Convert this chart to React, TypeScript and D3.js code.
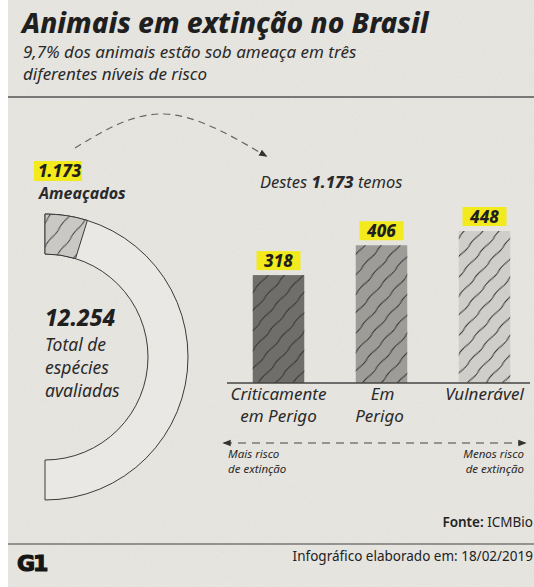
import React from 'react';
import * as d3 from 'd3';

const totalEspecies = 12254;
const ameacados = 1173;
const categorias = ['Criticamente em Perigo', 'Em Perigo', 'Vulnerável'];
const rotulos = [['Criticamente', 'em Perigo'], ['Em', 'Perigo'], ['Vulnerável']];
const especies = [318, 406, 448];
const coresBarras = ['#6f6e6b', '#9d9c98', '#cfcecb'];

const W = 534;
const H = 587;
const fmt = (n: number) => n.toLocaleString('pt-BR');

const sans = "'Noto Sans', 'Open Sans', sans-serif";

export default function App() {
  // barras
  const baseY = 383;
  const x = d3.scaleBand<string>().domain(categorias).range([227, 536]).paddingInner(0.5).paddingOuter(0.25);
  const y = d3.scaleLinear().domain([0, 448]).range([baseY, baseY - 152]);

  // semicírculo
  const cx = 45;
  const cy = 357;
  const arc = d3.arc<{ s: number; e: number }>()
    .innerRadius(103)
    .outerRadius(143)
    .startAngle((d) => d.s)
    .endAngle((d) => d.e);
  const angulo = d3.scaleLinear().domain([0, totalEspecies]).range([0, Math.PI]);

  const curva = d3.line().curve(d3.curveNatural)([
    [75, 148],
    [165, 114],
    [266, 156],
  ]);

  return (
    <svg width={W} height={H} style={{ position: 'absolute', left: 0, top: 0 }}>
      <defs>
        <filter id="papel" x="0" y="0" width="100%" height="100%">
          <feTurbulence type="fractalNoise" baseFrequency="0.9" numOctaves="3" seed="4" />
          <feColorMatrix type="matrix" values="0 0 0 0 0.5  0 0 0 0 0.5  0 0 0 0 0.5  0 0 0 0.9 -0.35" />
        </filter>
        <pattern id="hachura" width="13" height="22" patternUnits="userSpaceOnUse" patternTransform="rotate(42)">
          <path d="M6,0 C8,6 4,14 6,22" fill="none" stroke="#333" strokeWidth="1" />
        </pattern>
        <pattern id="hachuraArco" width="15" height="22" patternUnits="userSpaceOnUse" patternTransform="rotate(38)">
          <path d="M7,0 C9,6 5,14 7,22" fill="none" stroke="#444" strokeWidth="1" />
        </pattern>
        <marker id="seta" viewBox="0 0 10 10" refX="8" refY="5" markerWidth="7" markerHeight="7" orient="auto-start-reverse">
          <path d="M0,1 L10,5 L0,9 z" fill="#333" />
        </marker>
      </defs>

      <rect x={0} y={0} width={W} height={H} fill="#fff" />
      <rect x={8} y={0} width={W - 8} height={H} fill="#e7e5e0" />
      <rect x={8} y={0} width={W - 8} height={H} filter="url(#papel)" opacity={0.25} />

      {/* título */}
      <text x={22} y={33} fontFamily={sans} fontStyle="italic" fontWeight={800} fontSize={28} fill="#1f1f1f">
        Animais em extinção no Brasil
      </text>
      <text fontFamily={sans} fontStyle="italic" fontSize={17} fill="#2a2a2a">
        <tspan x={23} y={58}>9,7% dos animais estão sob ameaça em três</tspan>
        <tspan x={23} y={80}>diferentes níveis de risco</tspan>
      </text>
      <line x1={8} x2={W} y1={97} y2={97} stroke="#555" strokeWidth={1.5} />

      {/* semicírculo do total */}
      <g transform={`translate(${cx},${cy})`}>
        <path d={arc({ s: 0, e: Math.PI }) ?? ''} fill="#eae8e4" stroke="#3a3a3a" strokeWidth={1} />
        <path d={arc({ s: 0, e: angulo(ameacados) }) ?? ''} fill="#c9c8c4" stroke="#3a3a3a" strokeWidth={1} />
        <path d={arc({ s: 0, e: angulo(ameacados) }) ?? ''} fill="url(#hachuraArco)" />
      </g>
      <text x={45} y={326} fontFamily={sans} fontStyle="italic" fontWeight={800} fontSize={22.5} fill="#1f1f1f">
        {fmt(totalEspecies)}
      </text>
      <text fontFamily={sans} fontStyle="italic" fontSize={17.5} fill="#2a2a2a">
        <tspan x={45} y={351}>Total de</tspan>
        <tspan x={45} y={374}>espécies</tspan>
        <tspan x={45} y={397}>avaliadas</tspan>
      </text>

      {/* ameaçados */}
      <rect x={34} y={161} width={48} height={20} fill="#f2ea1c" />
      <text x={38} y={177} fontFamily={sans} fontStyle="italic" fontWeight={800} fontSize={17} fill="#1f1f1f">
        {fmt(ameacados)}
      </text>
      <text x={39} y={199} fontFamily={sans} fontStyle="italic" fontWeight={700} fontSize={16} fill="#2a2a2a">
        Ameaçados
      </text>

      <path d={curva ?? ''} fill="none" stroke="#666" strokeWidth={1.2} strokeDasharray="7 5" markerEnd="url(#seta)" />

      <text x={260} y={188} fontFamily={sans} fontStyle="italic" fontSize={16.5} fill="#2a2a2a">
        Destes <tspan fontWeight={800}>{fmt(ameacados)}</tspan> temos
      </text>

      {/* barras */}
      {categorias.map((c, i) => {
        const bx = x(c) ?? 0;
        const top = y(especies[i]);
        const cxBar = bx + x.bandwidth() / 2;
        return (
          <g key={c}>
            <rect x={bx} y={top} width={x.bandwidth()} height={baseY - top} fill={coresBarras[i]} />
            <rect x={bx} y={top} width={x.bandwidth()} height={baseY - top} fill="url(#hachura)" />
            <rect x={cxBar - 22} y={top - 24} width={44} height={19} fill="#f2ea1c" />
            <text x={cxBar} y={top - 8} textAnchor="middle" fontFamily={sans} fontStyle="italic" fontWeight={800} fontSize={17} fill="#1f1f1f">
              {especies[i]}
            </text>
            <text textAnchor="middle" fontFamily={sans} fontStyle="italic" fontSize={17} fill="#2a2a2a">
              {rotulos[i].map((l, j) => (
                <tspan key={l} x={cxBar + (i === 1 ? -3 * j + 1 : 0)} y={400 + j * 22}>
                  {l}
                </tspan>
              ))}
            </text>
          </g>
        );
      })}
      <line x1={227} x2={530} y1={baseY} y2={baseY} stroke="#444" strokeWidth={1.5} />

      {/* escala de risco */}
      <line x1={224} x2={525} y1={443} y2={443} stroke="#444" strokeWidth={1.2} strokeDasharray="8 6" markerStart="url(#seta)" markerEnd="url(#seta)" />
      <text fontFamily={sans} fontStyle="italic" fontSize={11.5} fill="#2a2a2a">
        <tspan x={228} y={458}>Mais risco</tspan>
        <tspan x={228} y={473}>de extinção</tspan>
      </text>
      <text fontFamily={sans} fontStyle="italic" fontSize={11.5} fill="#2a2a2a" textAnchor="end">
        <tspan x={524} y={458}>Menos risco</tspan>
        <tspan x={524} y={473}>de extinção</tspan>
      </text>

      {/* rodapé */}
      <text x={533} y={527} textAnchor="end" fontFamily={sans} fontSize={13.5} fill="#222">
        <tspan fontWeight={600}>Fonte:</tspan> ICMBio
      </text>
      <line x1={8} x2={W} y1={544} y2={544} stroke="#777" strokeWidth={1.5} />
      <text x={17} y={571} fontFamily="'DejaVu Sans', sans-serif" fontWeight={900} fontSize={22} fill="#151515" stroke="#151515" strokeWidth={1.2} letterSpacing={-2}>
        G1
      </text>
      <text x={533} y={561} textAnchor="end" fontFamily={sans} fontSize={13.5} fill="#222">
        Infográfico elaborado em: 18/02/2019
      </text>
    </svg>
  );
}
